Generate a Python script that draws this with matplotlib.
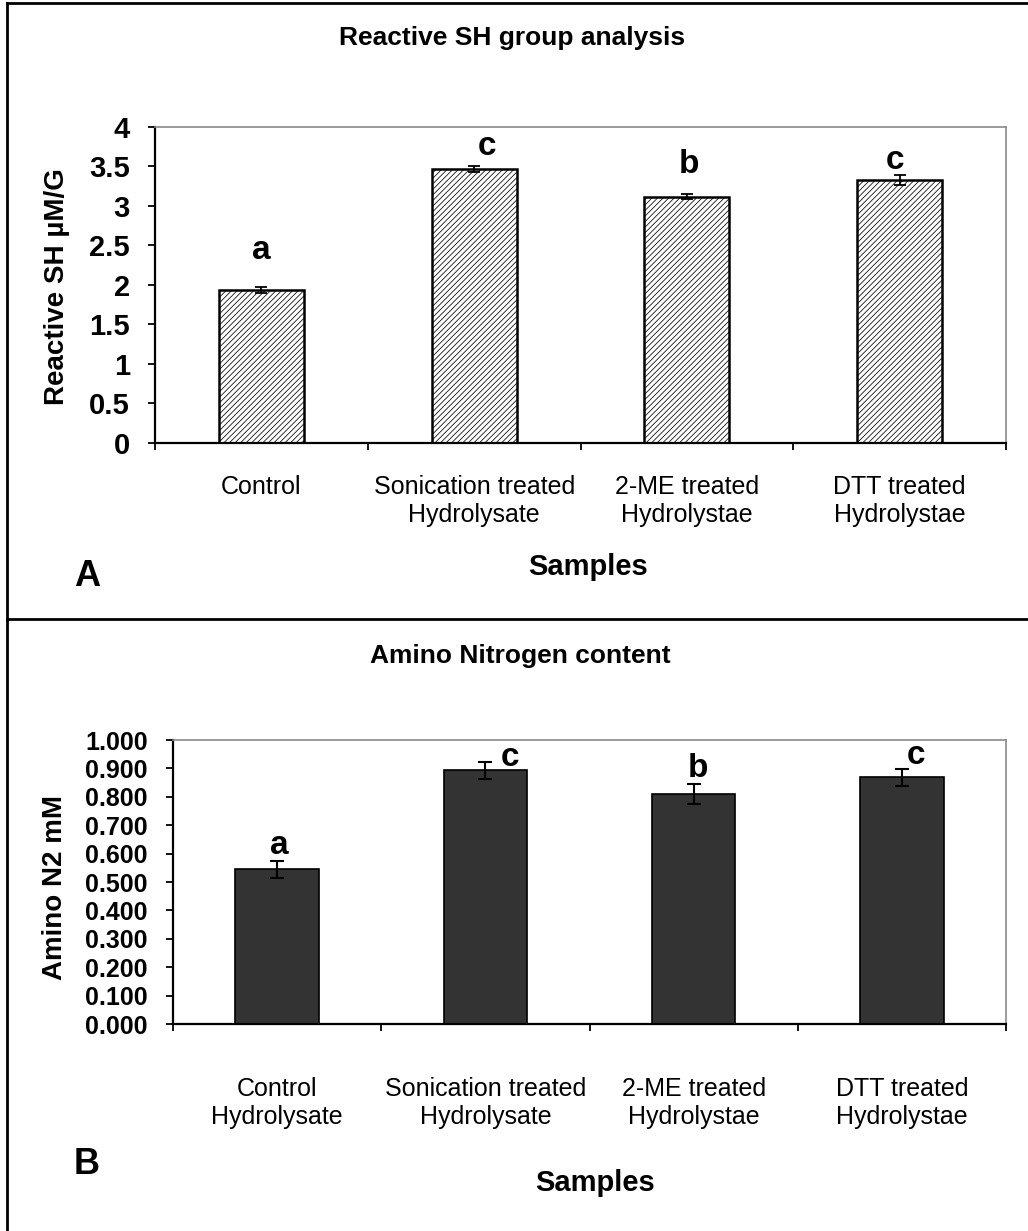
import matplotlib
matplotlib.use("Agg")
import matplotlib.pyplot as plt
from matplotlib.lines import Line2D
from matplotlib.ticker import FixedLocator, FixedFormatter, NullFormatter

plt.rcParams["font.family"] = ["Liberation Sans", "DejaVu Sans"]
plt.rcParams["hatch.linewidth"] = 0.55

# ── Panel A: reactive SH groups ──────────────────────────────────────────────
sh_labels = ["Control", "Sonication treated\nHydrolysate",
             "2-ME treated\nHydrolystae", "DTT treated\nHydrolystae"]
sh_values = [1.94, 3.47, 3.12, 3.33]
sh_errors = [0.035, 0.04, 0.035, 0.06]
sh_letters = ["a", "c", "b", "c"]
sh_letter_y = [2.44, 3.75, 3.52, 3.58]
sh_yticks = [0, 0.5, 1, 1.5, 2, 2.5, 3, 3.5, 4]

# ── Panel B: amino nitrogen ──────────────────────────────────────────────────
n2_labels = ["Control\nHydrolysate", "Sonication treated\nHydrolysate",
             "2-ME treated\nHydrolystae", "DTT treated\nHydrolystae"]
n2_values = [0.545, 0.893, 0.81, 0.868]
n2_errors = [0.03, 0.03, 0.035, 0.03]
n2_letters = ["a", "c", "b", "c"]
n2_letter_y = [0.63, 0.94, 0.90, 0.944]
n2_yticks = [0.0, 0.1, 0.2, 0.3, 0.4, 0.5, 0.6, 0.7, 0.8, 0.9, 1.0]

# letter nudges (in category units)
sh_letter_dx = [0.0, 0.06, 0.01, -0.02]
n2_letter_dx = [0.01, 0.12, 0.02, 0.07]

W, H = 1028, 1231


def fx(x):
    return x / W


def fy(y):
    return 1 - y / H


fig = plt.figure(figsize=(W / 100, H / 100), dpi=100)

ax_a = fig.add_axes([fx(155), fy(443), (1006 - 155) / W, (443 - 127) / H])
ax_b = fig.add_axes([fx(173), fy(1024), (1006 - 173) / W, (1024 - 740) / H])


def style_axes(ax, labels, pad, ymax, yticks, fmt, ysize):
    ax.set_xlim(-0.5, 3.5)
    ax.set_ylim(0, ymax)
    ax.set_yticks(yticks)
    ax.set_yticklabels([fmt.format(v) for v in yticks],
                       fontsize=ysize, fontweight="bold")
    ax.xaxis.set_major_locator(FixedLocator([-0.5, 0.5, 1.5, 2.5, 3.5]))
    ax.xaxis.set_major_formatter(NullFormatter())
    ax.xaxis.set_minor_locator(FixedLocator([0, 1, 2, 3]))
    ax.xaxis.set_minor_formatter(FixedFormatter(labels))
    ax.tick_params(axis="x", which="minor", length=0, pad=pad, labelsize=18)
    ax.tick_params(axis="x", which="major", length=5, width=1.3, direction="out")
    ax.tick_params(axis="y", length=5, width=1.3, pad=13)
    for side in ("left", "bottom"):
        ax.spines[side].set_color("black")
        ax.spines[side].set_linewidth(1.6)
    for side in ("top", "right"):
        ax.spines[side].set_color("#8a8a8a")
        ax.spines[side].set_linewidth(1.2)


x = list(range(4))

# A: hatched bars
ax_a.bar(x, sh_values, width=0.4, color="white", edgecolor="black",
         linewidth=1.8, hatch="//////", zorder=2)
ax_a.errorbar(x, sh_values, yerr=sh_errors, fmt="none", ecolor="black",
              elinewidth=1.3, capsize=4.5, capthick=1.3, zorder=3)
for i, (lt, ly) in enumerate(zip(sh_letters, sh_letter_y)):
    ax_a.text(i + sh_letter_dx[i], ly, lt, ha="center", va="center",
              fontsize=24, fontweight="bold")
style_axes(ax_a, sh_labels, 23, 4, sh_yticks, "{:g}", 21)

# B: solid dark bars
ax_b.bar(x, n2_values, width=0.4, color="#333333", edgecolor="black",
         linewidth=1.2, zorder=2)
ax_b.errorbar(x, n2_values, yerr=n2_errors, fmt="none", ecolor="black",
              elinewidth=1.5, capsize=5, capthick=1.5, zorder=3)
for i, (lt, ly) in enumerate(zip(n2_letters, n2_letter_y)):
    ax_b.text(i + n2_letter_dx[i], ly, lt, ha="center", va="center",
              fontsize=24, fontweight="bold")
style_axes(ax_b, n2_labels, 38, 1.0, n2_yticks, "{:.3f}", 18)

# titles, axis names, panel letters
bold = dict(ha="center", va="center", fontweight="bold")
fig.text(fx(512), fy(38), "Reactive SH group analysis", fontsize=19, **bold)
fig.text(fx(57), fy(287), "Reactive SH µM/G", rotation=90, fontsize=20, **bold)
fig.text(fx(588), fy(567), "Samples", fontsize=21, **bold)
fig.text(fx(87), fy(576), "A", fontsize=26, **bold)

fig.text(fx(520), fy(656), "Amino Nitrogen content", fontsize=19, **bold)
fig.text(fx(55), fy(888), "Amino N2 mM", rotation=90, fontsize=20, **bold)
fig.text(fx(595), fy(1183), "Samples", fontsize=21, **bold)
fig.text(fx(87), fy(1165), "B", fontsize=26, **bold)

# panel frame
frame = dict(transform=fig.transFigure, color="black", linewidth=2)
fig.add_artist(Line2D([fx(7), 1], [fy(3), fy(3)], **frame))
fig.add_artist(Line2D([fx(7), fx(7)], [fy(3), 0], **frame))
fig.add_artist(Line2D([fx(7), 1], [fy(619), fy(619)], **frame))

fig.savefig("out.png", dpi=100)
